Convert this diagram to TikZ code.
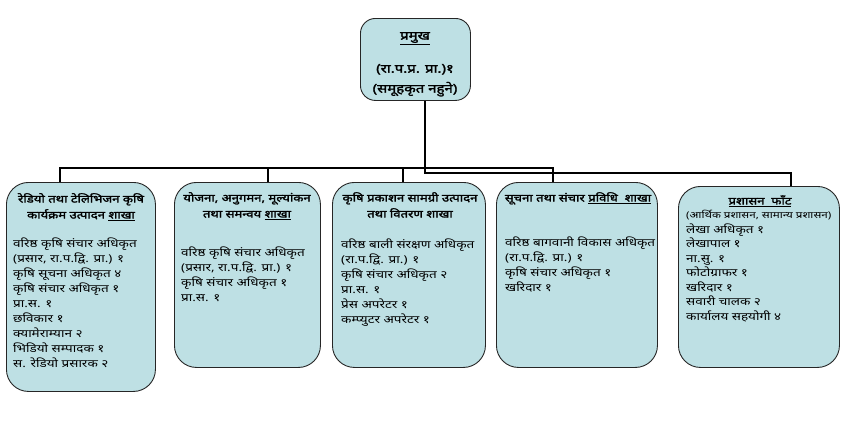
\documentclass[tikz,border=0pt]{standalone}
\usepackage{fontspec}
\setmainfont[Script=Devanagari, FakeStretch=1.25, BoldFont={Noto Sans}, BoldFeatures={FakeBold=2}]{Noto Sans}
\usetikzlibrary{positioning}
\definecolor{boxblue}{HTML}{BEE0E4}
\newcommand\tightlines{\lineskiplimit=-8pt\relax}

\begin{document}
\begin{tikzpicture}[x=1pt, y=-1pt,
  office/.style = {draw=black!85, fill=boxblue, rounded corners=22pt, line width=0.9pt, anchor=north west, inner sep=0pt},
  head/.style = {anchor=north, align=center, font=\bfseries\fontsize{10.5}{16}\selectfont\tightlines, inner sep=0pt},
  staff/.style = {anchor=north west, align=left, font=\fontsize{10.8}{15}\selectfont\tightlines, inner sep=0pt},
  link/.style = {line width=2.2pt}]
\useasboundingbox (0,0) rectangle (848,423);

\node[office, rounded corners=15pt, minimum width=110pt, minimum height=82pt] (chief) at (360,18) {};
\node[office, minimum width=149pt, minimum height=209pt] (b1) at (6,182) {};
\node[office, minimum width=146pt, minimum height=185pt] (b2) at (174,182) {};
\node[office, minimum width=153pt, minimum height=185pt] (b3) at (332,182) {};
\node[office, minimum width=161pt, minimum height=185pt] (b4) at (496,182) {};
\node[office, minimum width=161pt, minimum height=181pt] (b5) at (678,186) {};

\node[head, font=\bfseries\fontsize{12}{20}\selectfont\tightlines] (chiefhead) at (415,32) {\underline{प्रमुख}\\[13pt] (रा.प.प्र. प्रा.)१\\ (समूहकृत नहुने)};

\node[head] (h1) at (81,193) {रेडियो तथा टेलिभिजन कृषि\\ कार्यक्रम उत्पादन \underline{शाखा}};
\node[staff] (s1) at (13,238) {वरिष्ठ कृषि संचार अधिकृत\\ (प्रसार, रा.प.द्वि. प्रा.) १\\ कृषि सूचना अधिकृत ४\\ कृषि संचार अधिकृत १\\ प्रा.स. १\\ छविकार १\\ क्यामेराम्यान २\\ भिडियो सम्पादक १\\ स. रेडियो प्रसारक २};

\node[head] (h2) at (247,192) {योजना, अनुगमन, मूल्यांकन\\ तथा समन्वय \underline{शाखा}};
\node[staff] (s2) at (181,247) {वरिष्ठ कृषि संचार अधिकृत\\ (प्रसार, रा.प.द्वि. प्रा.) १\\ कृषि संचार अधिकृत १\\ प्रा.स. १};

\node[head] (h3) at (410,192) {कृषि प्रकाशन सामग्री उत्पादन\\ तथा वितरण शाखा};
\node[staff] (s3) at (341,239) {वरिष्ठ बाली संरक्षण अधिकृत\\ (रा.प.द्वि. प्रा.) १\\ कृषि संचार अधिकृत २\\ प्रा.स. १\\ प्रेस अपरेटर १\\ कम्प्युटर अपरेटर १};

\node[head] (h4) at (578,192) {सूचना तथा संचार \underline{प्रविधि\ \ शाखा}};
\node[staff] (s4) at (505,237) {वरिष्ठ बागवानी विकास अधिकृत\\ (रा.प.द्वि. प्रा.) १\\ कृषि संचार अधिकृत १\\ खरिदार १};

\node[head] (h5) at (760,195) {\underline{प्रशासन\ \ फाँट}};
\node[staff, font=\fontsize{10.8}{14.5}\selectfont\tightlines] (s5) at (686,210) {{\fontsize{9.3}{14.5}\selectfont (आर्थिक प्रशासन, सामान्य प्रशासन)}\\ लेखा अधिकृत १\\ लेखापाल १\\ ना.सु. १\\ फोटोग्राफर १\\ खरिदार १\\ सवारी चालक २\\ कार्यालय सहयोगी ४};

\coordinate (split) at (425,173);
\coordinate (d1) at (60,168);
\coordinate (d2) at (268,168);
\coordinate (d3) at (403,168);
\coordinate (d4) at (553,168);
\coordinate (d5) at (791,173);
\draw[link] (chief.south -| split) -- (split) -- (d5) -- (d5 |- b5.north);
\draw[link] (d1 |- b1.north) -- (d1) -- (d4) -- (d4 |- b4.north);
\draw[link] (d2) -- (d2 |- b2.north);
\draw[link] (d3) -- (d3 |- b3.north);
\end{tikzpicture}
\end{document}
